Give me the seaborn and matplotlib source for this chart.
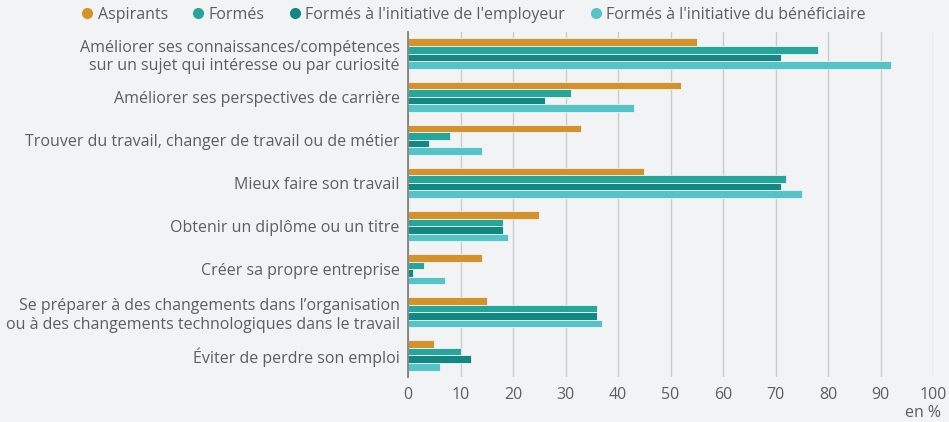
import pandas as pd
import matplotlib.pyplot as plt
import seaborn as sns

# Données (en %)
motifs = [
    "Améliorer ses connaissances/compétences\nsur un sujet qui intéresse ou par curiosité",
    "Améliorer ses perspectives de carrière",
    "Trouver du travail, changer de travail ou de métier",
    "Mieux faire son travail",
    "Obtenir un diplôme ou un titre",
    "Créer sa propre entreprise",
    "Se préparer à des changements dans l’organisation\nou à des changements technologiques dans le travail",
    "Éviter de perdre son emploi",
]
groupes = [
    "Aspirants",
    "Formés",
    "Formés à l'initiative de l'employeur",
    "Formés à l'initiative du bénéficiaire",
]
aspirants = [55, 52, 33, 45, 25, 14, 15, 5]
formes = [78, 31, 8, 72, 18, 3, 36, 10]
formes_employeur = [71, 26, 4, 71, 18, 1, 36, 12]
formes_beneficiaire = [92, 43, 14, 75, 19, 7, 37, 6]

couleurs = ["#D4922A", "#26A69A", "#138781", "#55C4C6"]
fond = "#F2F3F5"
gris = "#5E5E5E"
taille = 11.5

sns.set_theme(style="white")
plt.rcParams['font.family'] = ['Open Sans', 'DejaVu Sans']

rows = []
for g, vals in zip(groupes, [aspirants, formes, formes_employeur, formes_beneficiaire]):
    for m, v in zip(motifs, vals):
        rows.append({"motif": m, "groupe": g, "valeur": v})
df = pd.DataFrame(rows)

fig = plt.figure(figsize=(9.49, 4.22), dpi=100, facecolor=fond)
ax = fig.add_axes([408 / 949, 1 - 377 / 422, (933 - 408) / 949, (377 - 32) / 422])
ax.set_facecolor(fond)

sns.barplot(
    data=df, y="motif", x="valeur", hue="groupe",
    order=motifs, hue_order=groupes, palette=couleurs, saturation=1,
    orient="h", width=0.7, edgecolor=fond, linewidth=0.6,
    ax=ax, legend=False,
)

ax.set_xlim(0, 100)
ax.set_ylim(7.5, -0.5)
ax.set_xticks(range(0, 101, 10))
ax.xaxis.grid(True, color="#CBCBCB", linewidth=1)
ax.yaxis.grid(False)
ax.set_axisbelow(True)
for s in ["top", "right", "bottom"]:
    ax.spines[s].set_visible(False)
ax.spines["left"].set_color("#777777")
ax.spines["left"].set_linewidth(1.2)
ax.tick_params(axis="both", length=0, labelsize=taille, labelcolor=gris)
ax.tick_params(axis="x", pad=7)
ax.tick_params(axis="y", pad=6)
ax.set_xlabel("")
ax.set_ylabel("")
fig.text(941 / 949, 1 - 413 / 422, "en %", ha="right", va="center",
         fontsize=taille, color=gris)

handles = [plt.Line2D([], [], marker="o", linestyle="", markersize=7,
                      color=c) for c in couleurs]
fig.legend(handles, groupes, loc="center", bbox_to_anchor=(0.497, 1 - 15 / 422),
           ncol=4, frameon=False, fontsize=taille, handletextpad=0.05,
           handlelength=1.2, columnspacing=1.3, labelcolor=gris)

plt.savefig("out.png", dpi=100, facecolor=fond)
plt.close()
